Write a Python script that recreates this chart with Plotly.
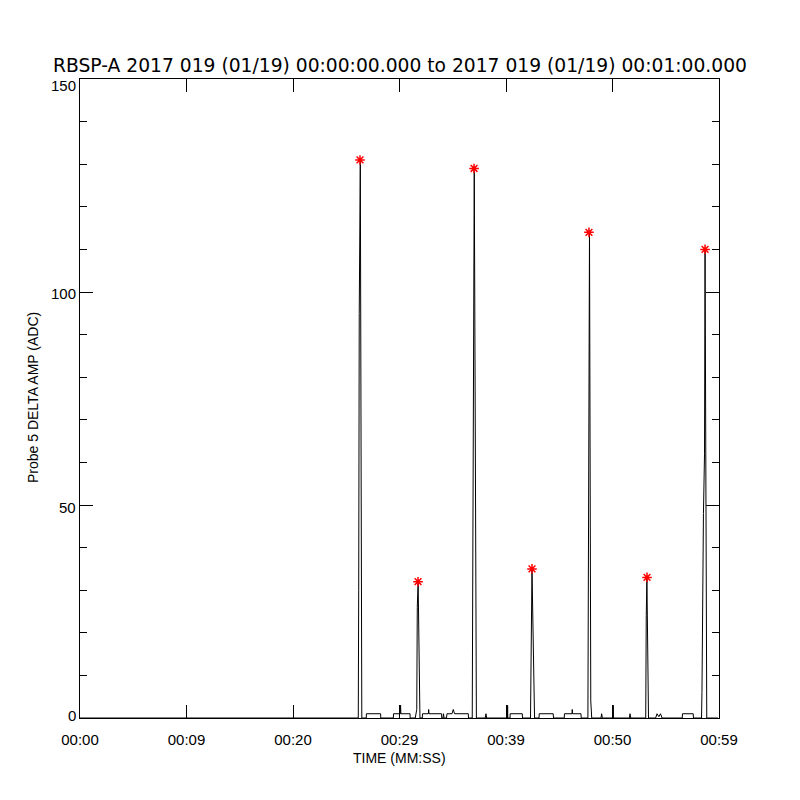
import plotly.graph_objects as go

# Time (seconds from 00:00:00) and Probe 5 DELTA AMP (ADC) values
time_s = [
    0.00,
    26.13, 26.17, 26.22, 26.32, 26.46,
    26.88, 26.89, 28.23, 28.24,
    29.42, 29.44, 30.08, 30.10, 30.13, 30.99, 31.00,
    31.48, 31.55, 31.62, 31.67, 31.75, 31.92,
    32.14, 32.16, 32.71, 32.74, 32.77, 33.95, 33.97,
    34.08, 34.13, 34.18,
    34.41, 34.46, 34.93, 35.05, 35.17, 36.46, 36.48,
    36.83, 36.88, 36.95, 37.02, 37.22,
    38.05, 38.12, 38.18,
    40.14, 40.15, 40.17,
    40.38, 40.39, 41.53, 41.55,
    42.30, 42.35, 42.44, 42.68,
    43.10, 43.12, 44.43, 44.46,
    45.47, 45.49, 46.20, 46.22, 46.25, 47.04, 47.06,
    47.69, 47.74, 47.79, 47.84, 47.96, 48.05,
    48.92, 48.98, 49.05,
    50.06, 50.07, 50.09,
    51.60, 51.64, 51.71,
    53.12, 53.17, 53.23, 53.38,
    54.05, 54.18, 54.35, 54.51, 54.65,
    56.55, 56.57, 57.58, 57.60,
    58.36, 58.40, 58.54, 58.64, 58.69, 58.85,
    59.90,
]
amp_adc = [
    0,
    0, 30, 95, 131, 0,
    0, 1, 1, 0,
    0, 1, 1, 3, 1, 1, 0,
    0, 2, 2, 26, 32, 0,
    0, 1, 1, 2, 1, 1, 0,
    0, 1, 0,
    0, 1, 1, 2, 1, 1, 0,
    0, 30, 95, 129, 0,
    0, 1, 0,
    0, 3, 0,
    0, 1, 1, 0,
    0, 22, 35, 0,
    0, 1, 1, 0,
    0, 1, 1, 2, 1, 1, 0,
    0, 66, 100, 114, 4, 0,
    0, 1, 0,
    0, 3, 0,
    0, 1, 0,
    0, 24, 33, 0,
    0, 1, 0.3, 1, 0,
    0, 1, 1, 0,
    0, 6, 48, 62, 110, 0,
    0,
]

# Peak markers (red asterisks)
peak_time_s = [26.29, 31.74, 37.00, 42.44, 47.79, 53.24, 58.69]
peak_amp = [131, 32, 129, 35, 114, 33, 110]

# Axis ticks
x_tickvals = [0, 10, 20, 30, 40, 50, 60]
x_ticktext = ["00:00", "00:09", "00:20", "00:29", "00:39", "00:50", "00:59"]
y_tickvals = [0, 50, 100, 150]
y_ticktext = ["0", "50", "100", "150"]
y_label_shift = [3, -2, -1, -6]  # IDL keeps end labels inside the axis range

title_text = "RBSP-A 2017 019 (01/19) 00:00:00.000 to 2017 019 (01/19) 00:01:00.000"
FONT = "Liberation Sans"
TFONT = "DejaVu Sans"

fig = go.Figure()
fig.add_trace(go.Scatter(
    x=time_s, y=amp_adc, mode="lines",
    line=dict(color="black", width=1), showlegend=False, hoverinfo="skip",
))
fig.add_trace(go.Scatter(
    x=peak_time_s, y=peak_amp, mode="markers",
    marker=dict(symbol="asterisk-open", size=8, color="red",
                line=dict(color="red", width=1.5)),
    showlegend=False,
))

axis_common = dict(
    showline=True, linecolor="black", linewidth=1, mirror="ticks",
    ticks="inside", tickcolor="black", tickwidth=1, ticklen=13,
    showgrid=False, zeroline=False,
    tickfont=dict(family=FONT, size=15, color="black"),
)

fig.update_xaxes(range=[0, 60], tickmode="array", tickvals=x_tickvals,
                 ticktext=x_ticktext, ticklabelstandoff=8, **axis_common)
fig.update_yaxes(range=[0, 150], tickmode="array", tickvals=y_tickvals,
                 showticklabels=False,
                 minor=dict(ticks="inside", ticklen=7, dtick=10, tickcolor="black",
                            tickwidth=1, showgrid=False),
                 **axis_common)

annotations = [
    dict(text="TIME (MM:SS)", xref="paper", yref="paper",
         x=0.5, y=-(758 - 718) / 639, xanchor="center", yanchor="middle",
         showarrow=False, font=dict(family=FONT, size=14, color="black")),
    dict(text="Probe 5 DELTA AMP (ADC)", xref="paper", yref="paper",
         x=(33 - 80) / 639, y=(718 - 397) / 639, xanchor="center", yanchor="middle",
         textangle=-90, showarrow=False,
         font=dict(family=FONT, size=14, color="black")),
]
for val, txt, sh in zip(y_tickvals, y_ticktext, y_label_shift):
    annotations.append(dict(
        text=txt, xref="paper", yref="y", x=0, y=val,
        xanchor="right", yanchor="middle", xshift=-2, yshift=sh,
        showarrow=False, font=dict(family=FONT, size=15, color="black"),
    ))

# page body adds an 8px offset; margins compensate so the plot sits at 80..719 px
fig.update_layout(
    width=800, height=800,
    margin=dict(l=72, r=89, t=71, b=90, autoexpand=False),
    paper_bgcolor="white", plot_bgcolor="white",
    font=dict(family=FONT, color="black"),
    title=dict(text=title_text, x=392 / 800, xanchor="center", xref="container",
               y=1 - 57 / 800, yanchor="middle", yref="container",
               font=dict(family=TFONT, size=18.7, color="black")),
    annotations=annotations,
)

fig.write_html("out.html")
